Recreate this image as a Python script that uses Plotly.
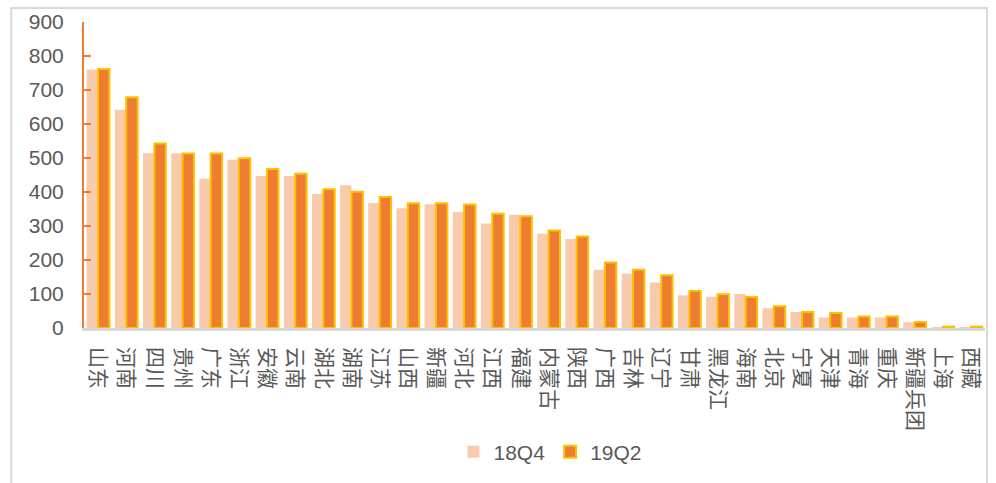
import plotly.graph_objects as go

# Provinces, ordered by 19Q2 value
provinces = ['山东', '河南', '四川', '贵州', '广东', '浙江', '安徽', '云南', '湖北', '湖南',
             '江苏', '山西', '新疆', '河北', '江西', '福建', '内蒙古', '陕西', '广西', '吉林',
             '辽宁', '甘肃', '黑龙江', '海南', '北京', '宁夏', '天津', '青海', '重庆', '新疆兵团',
             '上海', '西藏']

values_18q4 = [760, 642, 514, 514, 439, 495, 447, 447, 394, 420,
               368, 352, 364, 341, 307, 333, 277, 262, 171, 160,
               134, 96, 92, 100, 58, 47, 31, 31, 31, 17,
               1, 1]

values_19q2 = [762, 679, 543, 513, 513, 499, 468, 454, 408, 401,
               385, 367, 367, 363, 336, 329, 287, 269, 193, 171,
               155, 109, 99, 91, 64, 47, 44, 34, 34, 18,
               4, 4]

y_ticks = [0, 100, 200, 300, 400, 500, 600, 700, 800, 900]

W, H = 996, 483
ML, MR, MT, MB = 84, 8, 22, 155
plot_w = W - ML - MR
plot_h = H - MT - MB


def px_x(px):
    return (px - ML) / plot_w


def px_y(py):
    return (H - MB - py) / plot_h


fig = go.Figure()
fig.add_trace(go.Bar(
    x=provinces, y=values_18q4, name='18Q4',
    marker=dict(color='#F8CBAD', line=dict(width=0)),
))
fig.add_trace(go.Bar(
    x=provinces, y=values_19q2, name='19Q2',
    marker=dict(color='#ED7D31', line=dict(color='#FFC000', width=2)),
))

# light gray frame around the chart
fig.add_shape(type='rect', xref='paper', yref='paper',
              x0=px_x(11), x1=px_x(990), y0=px_y(495), y1=px_y(8),
              line=dict(color='#D9D9D9', width=2), fillcolor='rgba(0,0,0,0)',
              layer='below')

fig.update_layout(
    width=W, height=H,
    margin=dict(l=ML, r=MR, t=MT, b=MB, pad=0),
    paper_bgcolor='white', plot_bgcolor='white',
    barmode='group', bargap=0.19, bargroupgap=0,
    showlegend=True,
    legend=dict(orientation='h', x=px_x(552), xanchor='center',
                y=px_y(452), yanchor='middle',
                font=dict(family='Liberation Sans, Arial', size=21, color='#595959'),
                itemclick=False, tracegroupgap=0),
    xaxis=dict(
        type='category', tickangle=90,
        tickfont=dict(family='Noto Sans CJK SC', size=21, color='#595959'),
        showline=True, linecolor='#D9D9D9', linewidth=2.5,
        ticks='', showgrid=False, ticklabelstandoff=12,
    ),
    yaxis=dict(
        range=[0, 900], tickvals=y_ticks, ticktext=[str(v) for v in y_ticks],
        tickfont=dict(family='Liberation Sans, Arial', size=21, color='#595959'),
        showline=True, linecolor='#ED7D31', linewidth=2,
        ticks='inside', ticklen=7, tickwidth=2, tickcolor='#ED7D31',
        showgrid=False, zeroline=False, ticklabelstandoff=14,
    ),
)

fig.write_html('out.html')
